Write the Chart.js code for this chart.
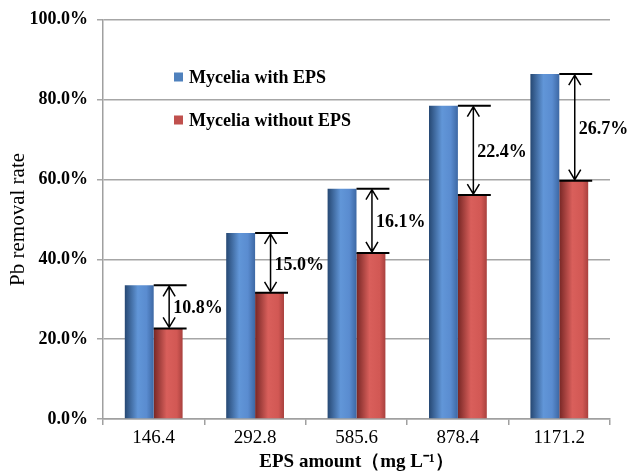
<!DOCTYPE html>
<html>
<head>
<meta charset="utf-8">
<script src="https://cdn.jsdelivr.net/npm/chart.js@4"></script>
<style>
  body { margin: 0; background: #fff; }
  #wrap { width: 630px; height: 473px; }
</style>
</head>
<body>
<div id="wrap"><canvas id="grafico"></canvas></div>
<script>
// dados
const categorias = ["146.4", "292.8", "585.6", "878.4", "1171.2"];
const comEPS = [33.5, 46.6, 57.7, 78.5, 86.4];
const semEPS = [22.7, 31.6, 41.6, 56.1, 59.7];
const nomesSeries = ["Mycelia with EPS", "Mycelia without EPS"];
const ticksY = [0, 20, 40, 60, 80, 100];

const serif = "'Liberation Serif', 'Times New Roman', serif";

// gradiente horizontal em cada barra (efeito cilindro)
const paradas = [
  [[0, "#264873"], [0.45, "#6196d8"], [0.75, "#5a8cd0"], [1, "#3d68a4"]],
  [[0, "#772725"], [0.45, "#d95f5b"], [0.8, "#d25854"], [1, "#a9413e"]]
];
const coresLegenda = ["#4f81bd", "#c0504d"];

const pluginGradiente = {
  id: "gradiente",
  beforeDatasetsDraw(chart) {
    const ctx = chart.ctx;
    chart.data.datasets.forEach(function (ds, d) {
      chart.getDatasetMeta(d).data.forEach(function (bar) {
        const g = ctx.createLinearGradient(bar.x - bar.width / 2, 0, bar.x + bar.width / 2, 0);
        paradas[d].forEach(function (p) { g.addColorStop(p[0], p[1]); });
        bar.options.backgroundColor = g;
      });
    });
  }
};

// setas com a diferenca entre as series
const pluginSetas = {
  id: "setas",
  afterDatasetsDraw(chart) {
    const ctx = chart.ctx;
    const m0 = chart.getDatasetMeta(0).data;
    const m1 = chart.getDatasetMeta(1).data;
    ctx.save();
    ctx.strokeStyle = "#000";
    ctx.fillStyle = "#000";
    for (let i = 0; i < categorias.length; i++) {
      const azul = m0[i], verm = m1[i];
      const esq = verm.x - verm.width / 2;
      const dir = verm.x + verm.width / 2 + 4;
      const yTop = azul.y, yBot = verm.y;
      const xa = verm.x + 1;
      ctx.lineWidth = 2;
      ctx.beginPath();
      ctx.moveTo(esq, yTop); ctx.lineTo(dir, yTop);
      ctx.moveTo(esq, yBot); ctx.lineTo(dir, yBot);
      ctx.stroke();
      ctx.lineWidth = 1.5;
      ctx.beginPath();
      ctx.moveTo(xa, yTop + 1); ctx.lineTo(xa, yBot - 1);
      ctx.moveTo(xa - 6, yTop + 11); ctx.lineTo(xa, yTop + 1); ctx.lineTo(xa + 6, yTop + 11);
      ctx.moveTo(xa - 6, yBot - 11); ctx.lineTo(xa, yBot - 1); ctx.lineTo(xa + 6, yBot - 11);
      ctx.stroke();
      const dif = (comEPS[i] - semEPS[i]).toFixed(1) + "%";
      ctx.font = "bold 18px " + serif;
      ctx.textAlign = "left";
      ctx.textBaseline = "middle";
      ctx.fillText(dif, xa + 4, (yTop + yBot) / 2 + 2);
    }
    ctx.restore();
  }
};

// legenda dentro da area do grafico
const pluginLegenda = {
  id: "legendaInterna",
  afterDraw(chart) {
    const ctx = chart.ctx;
    ctx.save();
    ctx.font = "bold 18px " + serif;
    ctx.textAlign = "left";
    ctx.textBaseline = "middle";
    chart.data.datasets.forEach(function (ds, d) {
      const y = 77 + d * 43;
      ctx.fillStyle = coresLegenda[d];
      ctx.fillRect(174, y - 4.5, 9, 9);
      ctx.fillStyle = "#000";
      ctx.fillText(ds.label, 189, y + 1);
    });
    ctx.restore();
  }
};

const dados = {
  labels: categorias,
  datasets: [
    { label: nomesSeries[0], data: comEPS, backgroundColor: function () { return coresLegenda[0]; }, borderWidth: 0 },
    { label: nomesSeries[1], data: semEPS, backgroundColor: function () { return coresLegenda[1]; }, borderWidth: 0 }
  ]
};

const config = {
  type: "bar",
  data: dados,
  options: {
    responsive: true,
    maintainAspectRatio: false,
    animation: false,
    categoryPercentage: 0.57,
    barPercentage: 1,
    layout: { padding: { left: 0, right: 20, top: 16, bottom: 0 } },
    plugins: {
      legend: { display: false },
      tooltip: { enabled: false }
    },
    scales: {
      x: {
        afterFit: function (s) { s.height = 54; },
        grid: { drawOnChartArea: false, drawTicks: true, tickLength: 6, color: "#a0a0a0", lineWidth: 1.5 },
        border: { color: "#a0a0a0", width: 1.5 },
        ticks: { color: "#000", padding: 2, font: { family: serif, size: 19 } },
        title: {
          display: true,
          text: "EPS amount（mg L⁻¹）",
          color: "#000",
          padding: { top: 0, bottom: 0 },
          font: { family: serif, size: 19, weight: "bold" }
        }
      },
      y: {
        min: 0,
        max: 100,
        afterFit: function (s) { s.width = 103; },
        afterBuildTicks: function (s) { s.ticks = ticksY.map(function (v) { return { value: v }; }); },
        grid: { color: "#a6a6a6", lineWidth: 1.5, tickLength: 6 },
        border: { color: "#a0a0a0", width: 1.5 },
        ticks: {
          color: "#000",
          padding: 9,
          font: { family: serif, size: 18, weight: "bold" },
          callback: function (v) { return v.toFixed(1) + "%"; }
        },
        title: {
          display: true,
          text: "Pb removal rate",
          color: "#000",
          padding: { top: 6, bottom: 0 },
          font: { family: serif, size: 21 }
        }
      }
    }
  },
  plugins: [pluginGradiente, pluginSetas, pluginLegenda]
};

let meuGrafico = new Chart(document.getElementById("grafico"), config);
</script>
</body>
</html>
